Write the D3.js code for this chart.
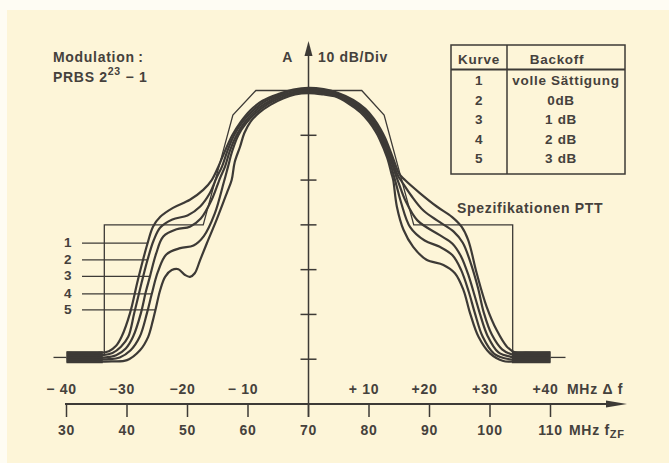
<!DOCTYPE html>
<html>
<head>
<meta charset="utf-8">
<script src="https://cdn.jsdelivr.net/npm/d3@7"></script>
<style>
  body { margin: 0; background: #fefcf3; }
  text { font-family: "Liberation Sans", Arial, sans-serif; font-weight: bold; fill: #45413c; letter-spacing: 0.7px; }
</style>
</head>
<body>
<div id="container"></div>
<script>
let w = 669;
let h = 463;
let ink = "#3d3a36";

// frequency ticks
let dfTicks = [-40, -30, -20, -10, 10, 20, 30, 40];
let dfLabels = ["\u2212 40", "\u221230", "\u221220", "\u2212 10", "+ 10", "+20", "+30", "+40"];
let fTicks = [30, 40, 50, 60, 70, 80, 90, 100, 110];
let dbTicks = [-10, -20, -30, -40, -50, -60];

// legend table
let kurven = ["1", "2", "3", "4", "5"];
let backoff = ["volle S\u00e4ttigung", "0dB", "1 dB", "2 dB", "3 dB"];

// spectra [delta f MHz, dB]
let curve1 = [[-40,-58.6],[-34.5,-58.6],[-33,-58.2],[-31.8,-57],[-30.9,-55],[-29.5,-49.7],[-28.2,-42.3],[-26.6,-34.1],
  [-25.7,-30.4],[-24.5,-28.2],[-22.4,-26.2],[-19.6,-24.4],[-17.4,-22.2],[-16,-20],[-14.9,-17],[-13.8,-13.5],[-12.6,-10],
  [-11.2,-7],[-9.6,-4.4],[-7.6,-2.3],[-5,-0.8],[-2.5,0.2],[0,0.6],[2.5,0.3],[4.8,-0.5],[7.4,-2.1],[9.4,-4.1],[10.8,-6.3],
  [11.9,-8.6],[12.7,-10.7],[14,-15.2],[15,-18.6],[15.95,-20],[18.4,-22.9],[21.2,-25.9],[23.7,-28.2],[25.3,-30.4],
  [26.4,-33.4],[27.8,-40.8],[29.45,-48.3],[31.1,-53.5],[32.8,-57.2],[34.2,-58.5],[36,-58.6],[40,-58.6]];
let curve2 = [[-40,-59.1],[-34,-59.1],[-32.4,-58.6],[-31,-57.2],[-29.8,-55],[-28.8,-49.7],[-27.6,-43],[-26.6,-37.8],
  [-25.6,-33.5],[-24.5,-30.6],[-22.5,-28.8],[-20,-27.9],[-17.9,-25.9],[-16.3,-22.9],[-15.2,-19.5],[-14.3,-17],[-13.4,-13.5],
  [-12.3,-10],[-10.9,-7],[-9.3,-4.6],[-7.3,-2.5],[-4.8,-1],[-2.5,0],[0,0.3],[2.5,0],[4.6,-0.7],[7.2,-2.3],[9.2,-4.3],
  [10.6,-6.5],[11.7,-8.7],[12.45,-10.7],[13.75,-15.2],[14.7,-18.8],[15.5,-20.5],[17,-23.5],[19,-26.8],[21.7,-29.4],
  [24,-31.5],[25.5,-34],[26.8,-38.5],[28,-44],[29,-49.7],[30.3,-54.5],[32,-57.8],[33.8,-59],[36,-59.1],[40,-59.1]];
let curve3 = [[-40,-59.6],[-33.5,-59.6],[-31.8,-59.1],[-30.2,-57.6],[-29,-55],[-27.7,-49.7],[-26.9,-45],[-26.2,-41.5],
  [-25.2,-36.5],[-24,-32.6],[-21.8,-31],[-19.6,-30.4],[-17.8,-28.6],[-16,-24.4],[-14.6,-19.5],[-13.8,-17],[-13,-13.5],
  [-11.9,-10],[-10.6,-7.2],[-9,-4.8],[-7,-2.8],[-4.6,-1.2],[-2.4,-0.3],[0,0],[2.5,-0.3],[4.5,-0.9],[7,-2.5],[9,-4.5],
  [10.4,-6.6],[11.5,-8.8],[12.2,-10.7],[13.5,-15.1],[14.4,-18.8],[15,-21],[16,-24.5],[18,-29],[21.7,-32.3],[23.8,-34.2],
  [25.2,-37],[26.5,-41.5],[27.5,-46],[28.3,-49.7],[29.6,-54.8],[31.4,-58.5],[33.6,-59.5],[36,-59.6],[40,-59.6]];
let curve4 = [[-40,-60],[-33,-60],[-31.2,-59.6],[-29.4,-58],[-27.9,-55],[-26.7,-49.7],[-25.9,-45.4],[-24.9,-40.5],
  [-23.5,-36.6],[-21.2,-35.2],[-19,-34.6],[-17.3,-32.5],[-15.5,-27.5],[-14,-20.5],[-13.3,-17],[-12.6,-13.5],[-11.6,-10],
  [-10.3,-7.3],[-8.7,-5],[-6.7,-3],[-4.4,-1.5],[-2.3,-0.6],[0,-0.3],[2.5,-0.6],[4.4,-1.1],[6.8,-2.7],[8.8,-4.7],
  [10.2,-6.8],[11.3,-9],[11.95,-10.7],[13.25,-15.1],[14.1,-19],[14.6,-21.5],[15.3,-25],[16.8,-30.5],[19.2,-33.5],
  [21.7,-34.9],[23.8,-36.8],[25.2,-40],[26.5,-45],[27.5,-49.7],[28.8,-55],[30.7,-58.8],[33.2,-60],[36,-60],[40,-60]];
let curve5 = [[-40,-60.5],[-32.5,-60.5],[-30,-60.2],[-27.85,-58],[-26.5,-55],[-25.75,-51.5],[-25.3,-49],[-24.5,-44.5],
  [-23.7,-41.6],[-22.6,-40.1],[-21.5,-39.9],[-20.4,-41.2],[-19.6,-41.6],[-18.8,-40.8],[-17.9,-37.8],[-16.8,-34.1],
  [-15.2,-28.9],[-13.5,-22.9],[-12.7,-20],[-12.2,-16],[-11.3,-12.5],[-10.6,-9.5],[-9.6,-7],[-8.2,-5],[-6.3,-3.2],
  [-4.2,-1.8],[-2.2,-0.9],[0,-0.6],[2.5,-0.9],[4.3,-1.3],[6.6,-2.9],[8.6,-4.9],[10,-7],[11.1,-9.2],[11.7,-10.7],
  [13,-15],[13.7,-18.5],[14,-20],[14.6,-25.9],[15.7,-31.1],[17.3,-34.9],[19.5,-37.8],[22.3,-38.95],[24.2,-40.8],
  [25.6,-44.5],[26.7,-49.7],[28.1,-55],[30,-58.7],[32.2,-60.4],[34,-60.5],[40,-60.5]];
let curves = [curve1, curve2, curve3, curve4, curve5];

// where the label leaders touch the curves [delta f, dB]
let leaderEnds = [[-26.6,-34.1],[-26.6,-37.8],[-26.2,-41.5],[-25.9,-45.4],[-25.3,-49]];

// PTT mask
let specMask = [[-33.75,-59],[-33.75,-30],[-17.4,-30],[-12.5,-5.5],[-8.7,0],[8.8,0],[12.5,-5.5],[17.4,-30],[33.75,-30],[33.75,-59]];
// noise floor blocks [from, to, top dB, bottom dB]
let floorBands = [[-40,-34,-58.2,-60.9],[33.6,40,-58.2,-60.9]];

let x = d3.scaleLinear().domain([-40, 40]).range([66.5, 550.5]);
let xf = d3.scaleLinear().domain([30, 110]).range([66.5, 550.5]);
let y = d3.scaleLinear().domain([-70, 0]).range([404, 90.5]);

let viz = d3.select("#container").append("svg")
    .attr("width", w)
    .attr("height", h)
;
viz.append("rect")
    .attr("x", 7).attr("y", 10)
    .attr("width", w - 7).attr("height", h - 10)
    .attr("fill", "#fdf5d8");

// PTT mask
let maskLine = d3.line().x(d => x(d[0])).y(d => y(d[1]));
viz.append("path")
    .attr("d", maskLine(specMask))
    .attr("fill", "none")
    .attr("stroke", ink)
    .attr("stroke-width", 1.3);

// floor blocks
viz.selectAll(".floor").data(floorBands).enter()
    .append("rect")
    .attr("class", "floor")
    .attr("x", d => x(d[0]))
    .attr("y", d => y(d[2]))
    .attr("width", d => x(d[1]) - x(d[0]))
    .attr("height", d => y(d[3]) - y(d[2]))
    .attr("fill", ink);
// little level marks beside the floor
viz.append("line")
    .attr("x1", x(-40) - 13).attr("x2", x(-40))
    .attr("y1", y(-59.6)).attr("y2", y(-59.6))
    .attr("stroke", ink).attr("stroke-width", 1.3);
viz.append("line")
    .attr("x1", x(40)).attr("x2", x(40) + 15)
    .attr("y1", y(-59.6)).attr("y2", y(-59.6))
    .attr("stroke", ink).attr("stroke-width", 1.3);

// spectra
let curveLine = d3.line()
    .x(d => x(d[0]))
    .y(d => y(d[1]))
    .curve(d3.curveCatmullRom.alpha(0.5));
viz.selectAll(".spec").data(curves).enter()
    .append("path")
    .attr("class", "spec")
    .attr("d", curveLine)
    .attr("fill", "none")
    .attr("stroke", ink)
    .attr("stroke-width", 2.2);

// curve labels with leaders
viz.selectAll(".leader").data(leaderEnds).enter()
    .append("line")
    .attr("class", "leader")
    .attr("x1", 82)
    .attr("x2", d => x(d[0]))
    .attr("y1", d => y(d[1]))
    .attr("y2", d => y(d[1]))
    .attr("stroke", ink)
    .attr("stroke-width", 1.3);
viz.selectAll(".clabel").data(kurven).enter()
    .append("text")
    .attr("class", "clabel")
    .attr("x", 68)
    .attr("y", (d, i) => y(leaderEnds[i][1]) + 4)
    .attr("text-anchor", "middle")
    .attr("font-size", 13.5)
    .text(d => d);

// vertical axis
viz.append("line")
    .attr("x1", x(0)).attr("x2", x(0))
    .attr("y1", 417).attr("y2", 52)
    .attr("stroke", ink).attr("stroke-width", 1.5);
viz.append("path")
    .attr("d", `M${x(0)},41 L${x(0) - 4},56 L${x(0) + 4},56 Z`)
    .attr("fill", ink);
viz.selectAll(".ytick").data(dbTicks).enter()
    .append("line")
    .attr("class", "ytick")
    .attr("x1", x(0) - 8).attr("x2", x(0) + 8)
    .attr("y1", d => y(d)).attr("y2", d => y(d))
    .attr("stroke", ink).attr("stroke-width", 1.5);
viz.append("text")
    .attr("x", 293).attr("y", 62)
    .attr("text-anchor", "end")
    .attr("font-size", 14)
    .text("A");
viz.append("text")
    .attr("x", 318).attr("y", 62)
    .attr("font-size", 14)
    .text("10 dB/Div");

// horizontal axis
viz.append("line")
    .attr("x1", 65).attr("x2", 612)
    .attr("y1", y(-70)).attr("y2", y(-70))
    .attr("stroke", ink).attr("stroke-width", 1.8);
viz.append("path")
    .attr("d", `M627,${y(-70)} L606,${y(-70) - 3.5} L606,${y(-70) + 3.5} Z`)
    .attr("fill", ink);
viz.selectAll(".xtick").data(fTicks).enter()
    .append("line")
    .attr("class", "xtick")
    .attr("x1", d => xf(d)).attr("x2", d => xf(d))
    .attr("y1", y(-70)).attr("y2", 417)
    .attr("stroke", ink).attr("stroke-width", 1.5);
viz.selectAll(".flabel").data(fTicks).enter()
    .append("text")
    .attr("class", "flabel")
    .attr("x", d => xf(d))
    .attr("y", 435)
    .attr("text-anchor", "middle")
    .attr("font-size", 14)
    .text(d => d);
viz.selectAll(".dflabel").data(dfTicks).enter()
    .append("text")
    .attr("class", "dflabel")
    .attr("x", d => x(d) - 5)
    .attr("y", 394)
    .attr("text-anchor", "middle")
    .attr("font-size", 14)
    .text((d, i) => dfLabels[i]);
viz.append("text")
    .attr("x", 567).attr("y", 394)
    .attr("font-size", 14)
    .text("MHz \u0394 f");
let fz = viz.append("text")
    .attr("x", 569).attr("y", 435)
    .attr("font-size", 14);
fz.append("tspan").text("MHz f");
fz.append("tspan").attr("font-size", 11).attr("dy", 3).text("ZF");

// modulation note
viz.append("text")
    .attr("x", 53).attr("y", 62)
    .attr("font-size", 14)
    .text("Modulation\u2009:");
let prbs = viz.append("text")
    .attr("x", 53).attr("y", 82)
    .attr("font-size", 14);
prbs.append("tspan").text("PRBS 2");
prbs.append("tspan").attr("font-size", 10.5).attr("dy", -7).text("23");
prbs.append("tspan").attr("dy", 7).text(" \u2212 1");

// legend table
let tx0 = 451, tx1 = 625, tdiv = 507, ty0 = 45, ty1 = 174, thead = 69.5;
viz.append("rect")
    .attr("x", tx0).attr("y", ty0)
    .attr("width", tx1 - tx0).attr("height", ty1 - ty0)
    .attr("fill", "none").attr("stroke", ink).attr("stroke-width", 1.5);
viz.append("line")
    .attr("x1", tx0).attr("x2", tx1).attr("y1", thead).attr("y2", thead)
    .attr("stroke", ink).attr("stroke-width", 2);
viz.append("line")
    .attr("x1", tdiv).attr("x2", tdiv).attr("y1", ty0).attr("y2", ty1)
    .attr("stroke", ink).attr("stroke-width", 1.5);
viz.append("text")
    .attr("x", 479).attr("y", 63.5)
    .attr("text-anchor", "middle").attr("font-size", 13.5)
    .text("Kurve");
viz.append("text")
    .attr("x", 557).attr("y", 63.5)
    .attr("text-anchor", "middle").attr("font-size", 13.5)
    .text("Backoff");
viz.selectAll(".krow").data(kurven).enter()
    .append("text")
    .attr("class", "krow")
    .attr("x", 479)
    .attr("y", (d, i) => 85 + i * 19.5)
    .attr("text-anchor", "middle").attr("font-size", 13.5)
    .text(d => d);
viz.selectAll(".brow").data(backoff).enter()
    .append("text")
    .attr("class", "brow")
    .attr("x", (d, i) => i == 0 ? 566 : 561)
    .attr("y", (d, i) => 85 + i * 19.5)
    .attr("text-anchor", "middle").attr("font-size", 13.5)
    .text(d => d);

viz.append("text")
    .attr("x", 457).attr("y", 213)
    .attr("font-size", 14)
    .text("Spezifikationen PTT");
</script>
</body>
</html>
